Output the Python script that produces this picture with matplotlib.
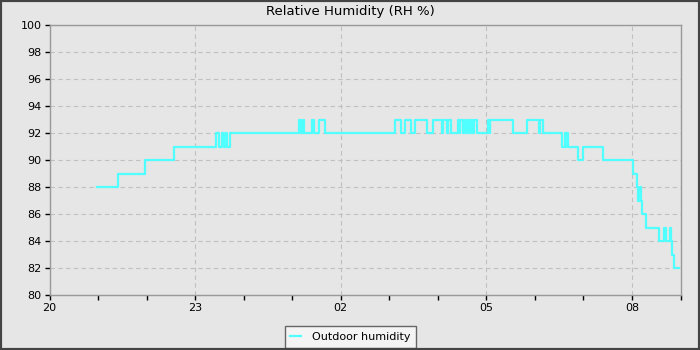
import pandas as pd
import matplotlib
matplotlib.use('Agg')
import matplotlib.pyplot as plt
import matplotlib.dates as mdates
from matplotlib.patches import Rectangle

# change points of the step line (time of change, new RH value)
times = ['20:59', '21:25', '21:58', '22:34',
         '23:26', '23:29', '23:33', '23:36', '23:38', '23:40', '23:43',
         '01:09', '01:11', '01:13', '01:15', '01:25', '01:27', '01:33', '01:40',
         '03:07', '03:14', '03:19', '03:27', '03:32', '03:47', '03:54', '04:05',
         '04:07', '04:11', '04:12', '04:16', '04:25', '04:27', '04:28', '04:31',
         '04:33', '04:36', '04:38', '04:41', '04:42', '04:44', '04:45', '04:48',
         '05:02', '05:04', '05:05', '05:33', '05:50', '06:05', '06:06', '06:10',
         '06:34', '06:37', '06:38', '06:39', '06:41', '06:53', '07:00', '07:24',
         '08:01', '08:06', '08:08', '08:10', '08:11', '08:13', '08:17', '08:33',
         '08:40', '08:42', '08:47', '08:48', '08:50', '08:52', '08:58']
humidity = [88, 89, 90, 91,
            92, 91, 92, 91, 92, 91, 92,
            93, 92, 93, 92, 93, 92, 93, 92,
            93, 92, 93, 92, 93, 92, 93, 92,
            93, 92, 93, 92, 93, 92, 93, 92,
            93, 92, 93, 92, 93, 92, 93, 92,
            93, 92, 93, 92, 93, 92, 93, 92,
            91, 92, 91, 92, 91, 90, 91, 90,
            89, 88, 87, 88, 87, 86, 85, 84,
            85, 84, 85, 84, 83, 82, 82]
y_ticks = [80, 82, 84, 86, 88, 90, 92, 94, 96, 98, 100]

# times before 20:00 belong to the next day
stamps = []
for t in times:
    day = '2024-01-01' if int(t[:2]) >= 20 else '2024-01-02'
    stamps.append(pd.Timestamp(day + ' ' + t))
df = pd.DataFrame({'time': stamps, 'rh': humidity})

bg = '#e6e6e6'
fig = plt.figure(figsize=(7, 3.5), dpi=100, facecolor=bg)
ax = fig.add_axes([49.5 / 700, 1 - 295 / 350, 631 / 700, 270 / 350])
ax.set_facecolor(bg)

ax.step(df['time'], df['rh'], where='post', color='#50ffff', linewidth=1.6,
        label='Outdoor humidity')

ax.set_xlim(pd.Timestamp('2024-01-01 20:00'), pd.Timestamp('2024-01-02 09:00'))
ax.set_ylim(80, 100)
ax.set_yticks(y_ticks)
ax.xaxis.set_major_locator(mdates.HourLocator(byhour=[2, 5, 8, 11, 14, 17, 20, 23]))
ax.xaxis.set_minor_locator(mdates.HourLocator())
ax.xaxis.set_major_formatter(mdates.DateFormatter('%H'))

ax.grid(True, which='major', color='#c0c0c0', linestyle='--', linewidth=0.8, dashes=(4, 3))
ax.tick_params(axis='both', which='both', direction='out', length=3.5, width=1,
               color='black', labelsize=8, pad=2)
for s in ax.spines.values():
    s.set_color('#999999')
    s.set_linewidth(1)

fig.text(0.5, 1 - 12 / 350, 'Relative Humidity (RH %)', ha='center', va='center', fontsize=9.5)

leg = fig.legend(loc='center', bbox_to_anchor=(350.5 / 700, 1 - 337 / 350),
                 fontsize=8, fancybox=False, framealpha=1, facecolor='#f4f4f4',
                 edgecolor='#666666', handlelength=1.0, handletextpad=1.0,
                 borderpad=0.5, borderaxespad=0)
leg.get_frame().set_linewidth(1)

# dark frame around the whole picture
fig.patches.append(Rectangle((0, 0), 1, 1, transform=fig.transFigure, fill=False,
                             edgecolor='#444444', linewidth=3, zorder=10))

fig.savefig('out.png', dpi=100, facecolor=bg)
